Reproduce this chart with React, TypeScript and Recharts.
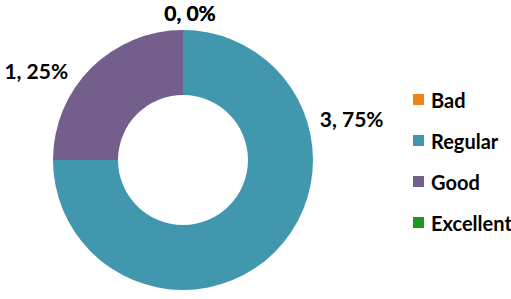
import { PieChart, Pie, Cell, Legend } from "recharts";

const categories = ["Bad", "Regular", "Good", "Excellent"];
const counts = [0, 3, 1, 0];
const colors = ["#F0831E", "#4198AE", "#735E8C", "#1A9A1A"];

const data = categories.map((name, i) => ({ name, value: counts[i] }));

const FONT = "Lato, 'Open Sans', sans-serif";
const RAD = Math.PI / 180;

function renderLabel(props: any) {
  const { cx, cy, outerRadius, startAngle, endAngle, value, percent } = props;
  const sweep = Math.abs(startAngle - endAngle);
  const angle = startAngle - Math.min(sweep * 0.42, 73);
  const cos = Math.cos(angle * RAD);
  const sin = Math.sin(angle * RAD);
  const r = outerRadius + 11 + 7 * Math.abs(sin);
  const x = cx + r * cos;
  const y = cy - r * sin;
  const anchor = Math.abs(cos) < 0.1 ? "middle" : cos > 0 ? "start" : "end";
  return (
    <text
      x={x + (anchor === "middle" ? 7 : 0)}
      y={y}
      textAnchor={anchor}
      dominantBaseline="central"
      fill="#000"
      fontSize={21}
      fontWeight={700}
      fontFamily={FONT}
    >
      {`${value}, ${Math.round((percent ?? 0) * 100)}%`}
    </text>
  );
}

function LegendContent() {
  return (
    <div style={{ display: "flex", flexDirection: "column", gap: 18 }}>
      {categories.map((name, i) => (
        <div key={name} style={{ display: "flex", alignItems: "center", height: 23 }}>
          <span style={{ width: 11, height: 11, background: colors[i], marginRight: 7 }} />
          <span style={{ fontFamily: FONT, fontWeight: 700, fontSize: 20, color: "#000", whiteSpace: "nowrap" }}>
            {name}
          </span>
        </div>
      ))}
    </div>
  );
}

export default function App() {
  return (
    <>
      <style>{`body{margin:0;background:#fff;overflow:hidden}`}</style>
      <PieChart width={511} height={299} margin={{ top: 0, right: 0, bottom: 0, left: 0 }}>
        <Pie
          data={data}
          dataKey="value"
          nameKey="name"
          cx={183}
          cy={160}
          innerRadius={65}
          outerRadius={130}
          startAngle={90}
          endAngle={-270}
          stroke="none"
          label={renderLabel}
          labelLine={false}
          isAnimationActive={false}
        >
          {data.map((d, i) => (
            <Cell key={d.name} fill={colors[i]} />
          ))}
        </Pie>
        <Legend
          content={<LegendContent />}
          wrapperStyle={{ position: "absolute", left: 413, top: 88, width: 110 }}
        />
      </PieChart>
    </>
  );
}
